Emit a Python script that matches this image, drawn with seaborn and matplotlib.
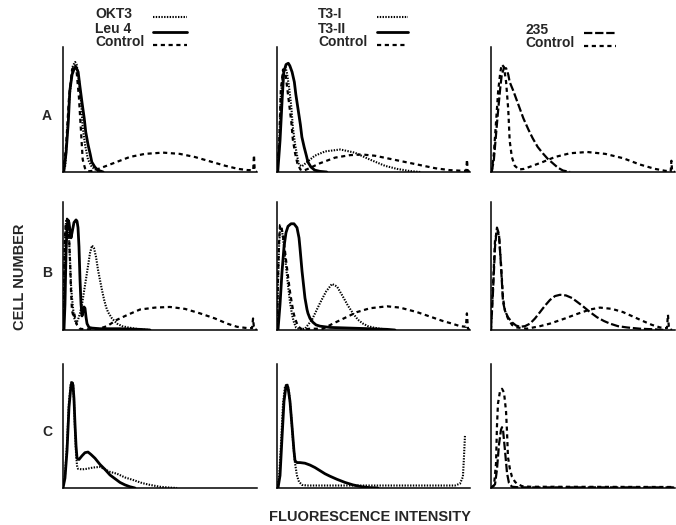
import matplotlib
matplotlib.use("Agg")
import matplotlib.pyplot as plt
from matplotlib.lines import Line2D
import seaborn as sns

sns.set_style("white")
plt.rcParams["font.family"] = ["Liberation Sans", "DejaVu Sans"]
plt.rcParams["lines.scale_dashes"] = False

# fluorescence channel (0-256) and relative cell number (% of axis height)
# ---- row A ----
a1_okt3_x = [0, 3, 5, 8, 11, 13, 16, 18, 21, 24, 26, 29, 33, 38, 45, 53]
a1_okt3_y = [0, 5, 25, 55, 75, 85, 88, 86, 74, 55, 36, 22, 10, 4, 1, 0]
a1_leu4_x = [1, 4, 7, 9, 12, 15, 17, 20, 22, 25, 28, 30, 33, 36, 38, 42, 46, 53]
a1_leu4_y = [0, 15, 40, 65, 78, 83, 84, 80, 70, 56, 43, 32, 22, 14, 8, 4, 1.5, 0]
a1_ctrl_x = [0, 4, 8, 12, 16, 18, 21, 24, 26, 29, 33, 40, 49, 62, 75, 88, 108, 132,
             154, 174, 194, 214, 231, 244, 251, 252, 253, 256]
a1_ctrl_y = [0, 20, 60, 82, 86, 80, 60, 30, 10, 3, 0.5, 1, 3, 6, 9, 12, 14.5, 15.5,
             14.5, 12, 8.5, 5, 2.5, 1.5, 1.5, 13.6, 1, 0]

a2_t3i_x = [0, 3, 5, 8, 11, 13, 16, 19, 21, 24, 27, 29, 33, 40, 50, 64, 84, 103, 123,
            143, 159, 176, 190]
a2_t3i_y = [0, 20, 60, 80, 84, 80, 68, 52, 36, 22, 12, 6, 4.5, 8, 13, 16.5, 18, 15.5, 10,
            5, 2.5, 0.8, 0]
a2_t3ii_x = [1, 4, 7, 9, 12, 15, 17, 20, 23, 25, 28, 31, 33, 36, 39, 41, 45, 50, 57, 66]
a2_t3ii_y = [0, 25, 60, 80, 86, 87, 85, 80, 72, 62, 50, 38, 28, 20, 13, 8, 4, 1.5, 0.5, 0]
a2_ctrl_x = [0, 3, 5, 8, 11, 13, 16, 19, 21, 24, 27, 31, 35, 41, 57, 77, 97, 113, 130,
             150, 170, 190, 210, 229, 245, 251, 252, 253, 256]
a2_ctrl_y = [0, 25, 65, 82, 80, 70, 55, 40, 26, 15, 7, 2, 1, 2.5, 7, 11.5, 13.5, 14, 13,
             10.5, 8, 5.5, 3, 1.5, 1, 1, 10, 1, 0]

a3_235_x = [1, 4, 7, 10, 13, 15, 18, 21, 24, 26, 31, 38, 45, 52, 58, 65, 72, 79, 86, 93,
            100, 110]
a3_235_y = [0, 10, 30, 50, 68, 78, 83, 83, 78, 72, 65, 54, 43, 34, 27, 20, 15, 10.5, 7,
            3.5, 1.2, 0]
a3_ctrl_x = [1, 4, 7, 10, 13, 15, 18, 21, 24, 26, 29, 33, 39, 46, 58, 72, 89, 110, 134,
             159, 184, 207, 228, 242, 250, 251, 252, 256]
a3_ctrl_y = [0, 15, 40, 65, 80, 86, 84, 72, 50, 25, 12, 5, 2, 2.5, 5, 8, 12, 15, 16,
             14.5, 11, 6, 2.5, 1, 0.5, 9, 0.5, 0]

# ---- row B ----
b1_leu4_x = [1.3, 2.6, 4, 5.3, 6.6, 7.9, 9.2, 10.6, 11.9, 14.5, 17.2, 18.5, 19.8, 21.1,
             22.4, 23.8, 25.1, 26.4, 27.7, 29, 30.4, 31.7, 34.3, 38.3, 48.8, 75.2,
             101.6, 114.8]
b1_leu4_y = [0, 20, 60, 80, 86, 84, 78, 72, 76, 84, 86, 85, 80, 65, 40, 20, 11, 15, 18,
             17, 10, 5, 2, 1.5, 1, 1, 0.5, 0]
b1_okt3_x = [0, 1.3, 2.6, 4, 5.3, 6.6, 7.9, 9.2, 10.6, 11.9, 14.5, 17.2, 19.8, 22.4,
             25.1, 27.7, 30.4, 33, 35.6, 38.3, 40.9, 43.6, 46.2, 48.8, 51.5, 54.1,
             56.8, 59.4, 64.7, 71.3, 77.9, 85.8, 101.6, 114.8]
b1_okt3_y = [0, 30, 70, 85, 87, 82, 72, 55, 35, 25, 10, 5, 8, 13, 20, 30, 40, 50, 60,
             66, 64, 57, 47, 39, 31, 24, 18, 14, 9, 5, 3, 2, 0.5, 0]
b1_ctrl_x = [0, 1.3, 2.6, 4, 5.3, 6.6, 7.9, 9.2, 10.6, 11.9, 13.2, 14.5, 15.8, 18.5,
             22.4, 29, 44.9, 58.1, 71.3, 85.8, 101.6, 121.4, 141.2, 161, 180.8, 200.6,
             216.5, 229.7, 242.9, 249.5, 250.8, 252.1, 256]
b1_ctrl_y = [0, 40, 75, 85, 86, 84, 75, 55, 30, 15, 12, 14, 10, 4, 1, 0.5, 0.5, 3, 8,
             12, 16, 17.5, 18, 16.5, 13, 9, 5, 2.5, 1.5, 1.5, 9, 1, 0]

b2_ctrl_x = [0, 1.3, 2.7, 4, 5.3, 6.6, 9.3, 11.9, 14.6, 17.2, 19.9, 22.5, 25.2, 27.8,
             31.8, 37.1, 43.8, 61, 74.3, 90.2, 106.1, 123.3, 145.9, 163.1, 185.6,
             202.9, 220.1, 232.1, 242.7, 250.6, 251.9, 253.3, 256]
b2_ctrl_y = [0, 40, 70, 82, 82, 78, 68, 55, 42, 30, 20, 12, 7, 3, 1, 0.5, 1, 1, 5, 9.5,
             14, 17, 18.5, 17.5, 14, 10.5, 7, 5, 3, 2.5, 13, 1, 0]
b2_t3ii_x = [1.3, 4, 6.6, 9.3, 11.9, 14.6, 18.6, 22.5, 26.5, 29.2, 30.5, 33.2, 35.8,
             37.1, 39.8, 41.1, 43.8, 47.7, 51.7, 57, 70.3, 96.8, 123.3, 145.9, 156.5]
b2_t3ii_y = [0, 20, 45, 65, 76, 81, 83, 83, 80, 72, 64, 46, 32, 25, 16, 13, 9, 6, 4, 3,
             2, 1.5, 1, 0.5, 0]
b2_t3i_x = [0, 1.3, 2.7, 4, 5.3, 6.6, 9.3, 11.9, 14.6, 17.2, 19.9, 22.5, 25.2, 30.5,
            37.1, 46.4, 57, 65, 72.9, 79.6, 87.5, 94.1, 100.8, 107.4, 114, 120.6,
            127.3, 136.5, 149.8]
b2_t3i_y = [0, 35, 65, 78, 80, 78, 65, 50, 35, 22, 12, 6, 2, 0.5, 1, 8, 21, 30, 36, 34,
            26, 19, 13, 8, 5, 3, 2, 1, 0]

b3_235_x = [0, 2.8, 5.6, 8.3, 11.1, 13.9, 16.7, 19.5, 23.6, 29.2, 34.8, 40.3, 47.3,
            54.3, 61.2, 68.2, 75.1, 82.1, 89, 96, 104.3, 112.7, 121, 128, 137.7, 147.4,
            157.2, 165.5, 176.6, 189.1, 207.2, 228.1, 242]
b3_235_y = [0, 30, 65, 80, 75, 50, 22, 15, 10, 6, 3.5, 2.5, 3, 5, 9, 14, 19, 23.5, 26.5,
            27.5, 27, 25, 21.5, 18.5, 14, 10, 7, 5, 3, 2, 1, 0.5, 0]
b3_ctrl_x = [0, 2.8, 5.6, 8.3, 11.1, 13.9, 16.7, 19.5, 23.6, 29.2, 36.2, 50.1, 68.2,
             82.1, 102.9, 119.6, 137.7, 151.6, 168.3, 183.6, 197.5, 211.4, 223.9,
             235.1, 242, 244.8, 246.2, 247.6, 251.8]
b3_ctrl_y = [0, 35, 70, 78, 74, 52, 25, 15, 9, 4, 2, 1, 3, 5, 9, 12.5, 16, 17.5, 16.5,
             14, 10.5, 7, 4, 2, 1.5, 1.5, 12, 1, 0]

# ---- row C ----
c1_leu4_x = [0, 2.6, 5.3, 7.9, 10.6, 11.9, 13.2, 14.5, 15.8, 17.2, 18.5, 21.1, 25.1, 29,
             33, 37, 42.2, 48.8, 55.4, 62, 68.6, 75.2, 81.8, 88.4, 95]
c1_leu4_y = [0, 8, 30, 65, 83, 85, 83, 72, 52, 34, 24, 23, 26, 28.5, 29, 27, 24, 19, 15,
             10.5, 7.5, 4.5, 2.5, 1, 0]
c1_okt3_x = [0, 2.6, 5.3, 7.9, 10.6, 11.9, 13.2, 14.5, 15.8, 17.2, 18.5, 19.8, 25.1,
             31.7, 39.6, 48.8, 55.4, 62, 71.3, 81.8, 92.4, 104.3, 114.8, 128, 141.2, 150.5]
c1_okt3_y = [0, 10, 35, 70, 85, 86, 84, 70, 48, 28, 18, 15.5, 15, 15.5, 16.5, 17, 15, 13,
             11.5, 8.5, 6.5, 4, 2.5, 1, 0.3, 0]

c2_t3ii_x = [1.3, 4, 6.6, 9.3, 11.9, 13.3, 14.6, 17.2, 19.9, 22.5, 23.9, 26.5, 30.5,
             37.1, 43.8, 50.4, 57, 63.6, 70.3, 79.6, 90.2, 100.8, 112.7, 123.3, 133.9]
c2_t3ii_y = [0, 10, 40, 70, 82, 83, 81, 70, 50, 30, 22, 20.5, 20.5, 20, 18.5, 16.5, 14,
             11.5, 9.5, 7, 4.5, 2.5, 1, 0.3, 0]
c2_t3i_x = [0, 2.7, 5.3, 8, 10.6, 13.3, 15.9, 18.6, 21.2, 23.9, 26.5, 29.2, 33.2, 39.8,
            57, 163.1, 236, 242.7, 246.6, 248, 249.3]
c2_t3i_y = [0, 8, 35, 68, 82, 84, 78, 60, 38, 20, 10, 5, 2.5, 2, 2, 2, 2, 3.5, 9, 25, 42]

c3_ctrl_x = [0, 4.2, 7, 8.3, 9.7, 12.5, 15.3, 18.1, 20.9, 22.3, 23.6, 26.4, 29.2, 33.4,
             36.2, 43.1, 54.3, 256]
c3_ctrl_y = [0, 2, 20, 50, 68, 78, 80, 77, 62, 45, 25, 15, 9, 5, 3.5, 1.5, 1, 0.8]
c3_235_x = [0, 5.6, 8.3, 11.1, 13.9, 15.3, 16.7, 19.5, 22.3, 25, 29.2, 40.3, 256]
c3_235_y = [0, 3, 15, 35, 47, 49, 47, 30, 12, 4, 1, 0.5, 0.5]

row_labels = ["A", "B", "C"]
legend1 = ["OKT3", "Leu 4", "Control"]
legend2 = ["T3-I", "T3-II", "Control"]
legend3 = ["235", "Control"]

# line styles
DOT = dict(color="black", lw=1.5, linestyle=(0, (1.0, 1.0)))
SOLID = dict(color="black", lw=2.0, linestyle="-")
DASH = dict(color="black", lw=1.6, linestyle=(0, (3.0, 2.6)))
LDASH = dict(color="black", lw=1.6, linestyle=(0, (6.0, 2.0)))

W, H = 676, 525
fig = plt.figure(figsize=(W / 100, H / 100), dpi=100)

cols = [(63, 194), (277, 193), (491, 184)]   # left, width in px
rows = [(47, 172), (202, 330), (364, 488)]   # top, baseline in px

panels = [
    [[(a1_okt3_x, a1_okt3_y, DOT), (a1_leu4_x, a1_leu4_y, SOLID), (a1_ctrl_x, a1_ctrl_y, DASH)],
     [(a2_t3i_x, a2_t3i_y, DOT), (a2_t3ii_x, a2_t3ii_y, SOLID), (a2_ctrl_x, a2_ctrl_y, DASH)],
     [(a3_235_x, a3_235_y, LDASH), (a3_ctrl_x, a3_ctrl_y, DASH)]],
    [[(b1_okt3_x, b1_okt3_y, DOT), (b1_leu4_x, b1_leu4_y, SOLID), (b1_ctrl_x, b1_ctrl_y, DASH)],
     [(b2_t3i_x, b2_t3i_y, DOT), (b2_t3ii_x, b2_t3ii_y, SOLID), (b2_ctrl_x, b2_ctrl_y, DASH)],
     [(b3_235_x, b3_235_y, LDASH), (b3_ctrl_x, b3_ctrl_y, DASH)]],
    [[(c1_okt3_x, c1_okt3_y, DOT), (c1_leu4_x, c1_leu4_y, SOLID)],
     [(c2_t3i_x, c2_t3i_y, DOT), (c2_t3ii_x, c2_t3ii_y, SOLID)],
     [(c3_235_x, c3_235_y, LDASH), (c3_ctrl_x, c3_ctrl_y, DASH)]],
]

for r, (top, base) in enumerate(rows):
    for c, (left, width) in enumerate(cols):
        ax = fig.add_axes([left / W, 1 - base / H, width / W, (base - top) / H])
        for xs, ys, style in panels[r][c]:
            sns.lineplot(x=xs, y=ys, ax=ax, estimator=None, sort=False, **style)
        ax.set_xlim(0, 256)
        ax.set_ylim(0, 100)
        ax.set_xticks([])
        ax.set_yticks([])
        ax.set_xlabel("")
        ax.set_ylabel("")
        ax.patch.set_alpha(0)
        for side in ["top", "right"]:
            ax.spines[side].set_visible(False)
        for side in ["left", "bottom"]:
            ax.spines[side].set_color("black")
            ax.spines[side].set_linewidth(1.1)

# row letters
for lab, y in zip(row_labels, [116, 273, 432]):
    fig.text(47 / W, 1 - y / H, lab, fontsize=10, fontweight="bold",
             ha="center", va="center")

# legends (text + sample line)
def legend(labels, styles, x_text, x0, x1, ys):
    for lab, st, y in zip(labels, styles, ys):
        fig.text(x_text / W, 1 - y / H, lab, fontsize=10, fontweight="bold",
                 ha="left", va="center")
        fig.add_artist(Line2D([x0 / W, x1 / W], [1 - (y + 3) / H] * 2,
                              transform=fig.transFigure, **st))

legend(legend1, [DOT, SOLID, DASH], 95, 153, 187, [14, 29, 42])
legend(legend2, [DOT, SOLID, DASH], 318, 377, 408, [14, 29, 42])
legend(legend3, [LDASH, DASH], 525, 584, 616, [30, 43])

fig.text(20 / W, 1 - 277 / H, "CELL NUMBER", fontsize=10.5, fontweight="bold",
         rotation=90, ha="center", va="center")
fig.text(370 / W, 1 - 517 / H, "FLUORESCENCE INTENSITY", fontsize=10.5,
         fontweight="bold", ha="center", va="center")

fig.savefig("out.png", dpi=100)
